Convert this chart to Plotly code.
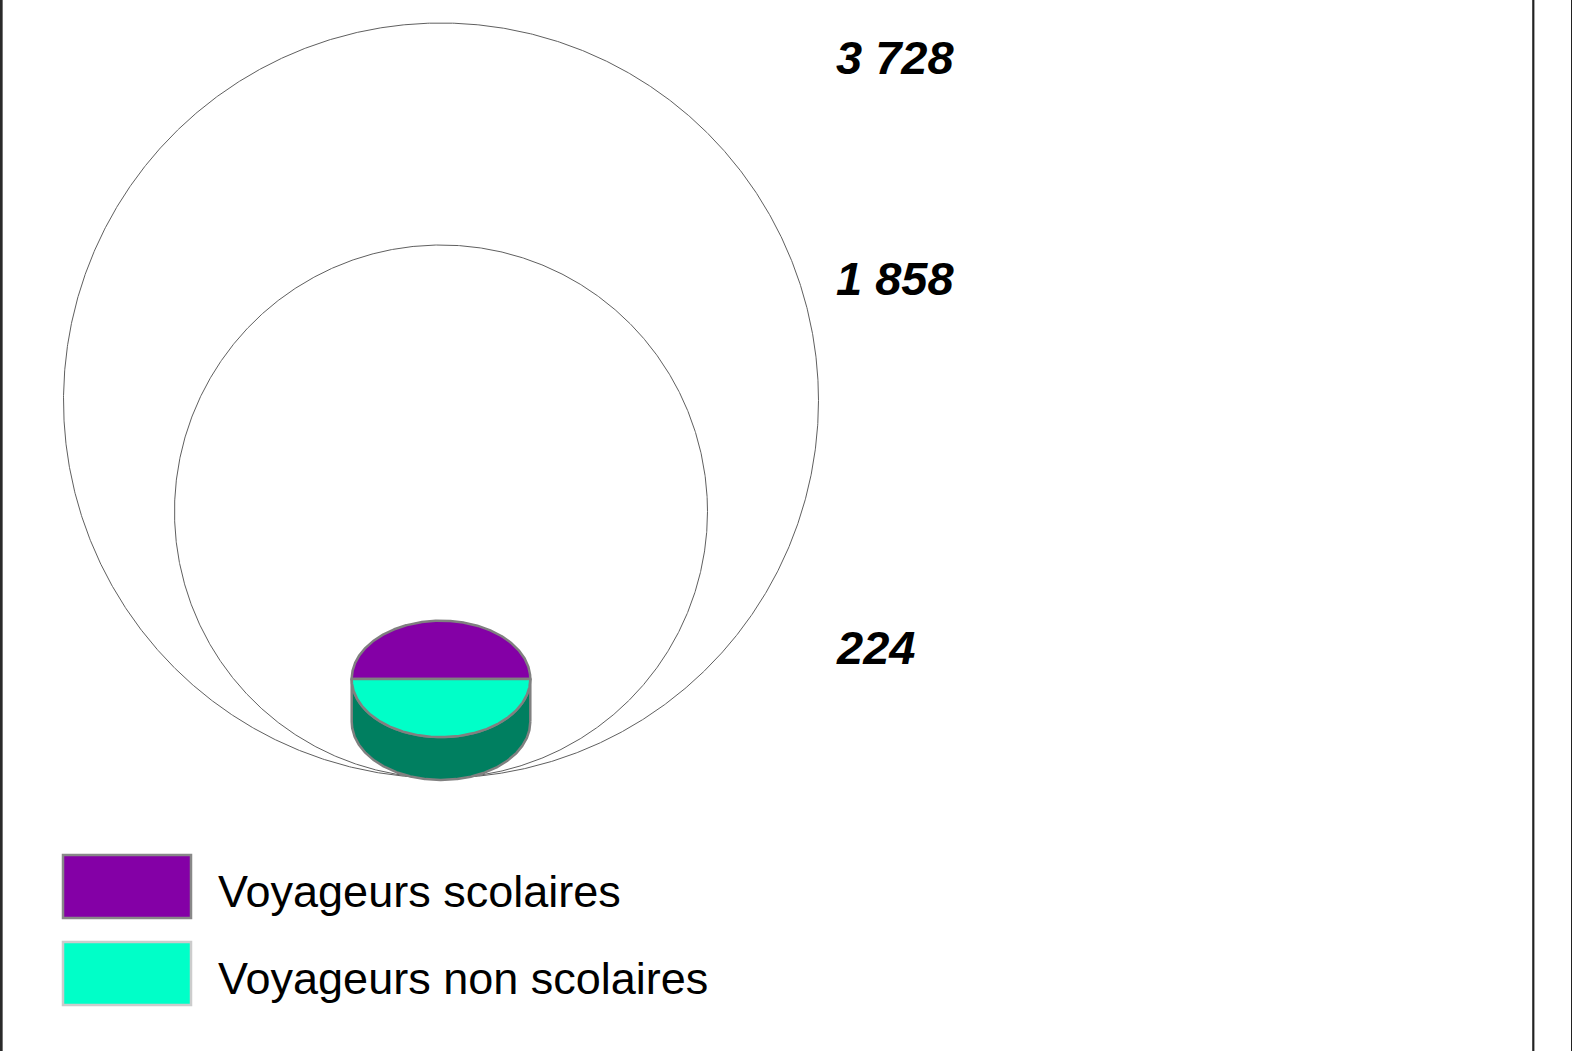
import numpy as np
import plotly.graph_objects as go

# ---- data ----
totals = [3728, 1858, 224]
segment_names = ["Voyageurs scolaires", "Voyageurs non scolaires"]
segment_values = [112, 112]
segment_colors = ["#8400A6", "#00FFC8"]
side_color = "#007F60"
outline_color = "#808080"

# ---- layout constants ----
W, H = 1572, 1051
cx = 441
base_y = 778
r_max = 377.5
label_x = 834

fig = go.Figure()
theta = np.linspace(0, 2 * np.pi, 1441)
vmax = max(totals)
radii = [r_max * np.sqrt(v / vmax) for v in totals]


def fmt(v):
    return f"{v:,}".replace(",", " ")


# nested reference circles (all but the smallest, which is drawn as a disc)
for v, r in zip(totals[:-1], radii[:-1]):
    cy = base_y - r
    fig.add_trace(go.Scatter(
        x=cx + r * np.cos(theta), y=cy + r * np.sin(theta),
        mode="lines", line=dict(color="#5f5f5f", width=1),
        hoverinfo="skip", showlegend=False))
    fig.add_annotation(x=label_x, y=cy - r + 34, text=fmt(v), showarrow=False,
                       xanchor="left", yanchor="middle",
                       font=dict(family="Liberation Sans", size=47, color="black",
                                 weight="bold", style="italic"))

# 3D pie disc for the smallest total
r_s = radii[-1] * 0.965
rx, ry = r_s, r_s * 0.652
depth = r_s * 0.48
bottom = base_y + 2
top_cy = bottom - depth - ry

t_low = np.linspace(0, np.pi, 361)
side_x = np.concatenate([cx + rx * np.cos(t_low), cx + rx * np.cos(t_low[::-1]), [cx + rx]])
side_y = np.concatenate([top_cy + depth + ry * np.sin(t_low), top_cy + ry * np.sin(t_low[::-1]),
                         [top_cy + depth]])
fig.add_trace(go.Scatter(x=side_x, y=side_y, mode="lines", fill="toself",
                         fillcolor=side_color, line=dict(color=outline_color, width=2.5),
                         hoverinfo="skip", showlegend=False))

tot_seg = sum(segment_values)
start = np.pi
for name, val, col in zip(segment_names, segment_values, segment_colors):
    span = 2 * np.pi * val / tot_seg
    t = np.linspace(start, start + span, 361)
    xs = np.concatenate([[cx], cx + rx * np.cos(t), [cx]])
    ys = np.concatenate([[top_cy], top_cy + ry * np.sin(t), [top_cy]])
    fig.add_trace(go.Scatter(x=xs, y=ys, mode="lines", fill="toself", fillcolor=col,
                             line=dict(color=outline_color, width=2.5),
                             hoverinfo="skip", showlegend=False, name=name))
    start += span

fig.add_annotation(x=label_x, y=top_cy - ry + 27, text=fmt(totals[-1]), showarrow=False,
                   xanchor="left", yanchor="middle",
                   font=dict(family="Liberation Sans", size=47, color="black",
                             weight="bold", style="italic"))

# legend
legend_tops = [855, 942]
legend_borders = ["#888888", "#cccccc"]
for name, col, y0, bc in zip(segment_names, segment_colors, legend_tops, legend_borders):
    fig.add_shape(type="rect", xref="x", yref="y", x0=63, x1=191, y0=y0, y1=y0 + 63,
                  fillcolor=col, line=dict(color=bc, width=2.5))
    fig.add_annotation(x=216, y=y0 + 36, text=name, showarrow=False,
                       xanchor="left", yanchor="middle",
                       font=dict(family="Liberation Sans", size=45, color="black"))

# frame lines
for xv, w, c in [(1.3, 2.7, "#2a2a2a"), (1533.3, 2.2, "#222222"), (1571.5, 1, "#222222")]:
    fig.add_shape(type="line", xref="x", yref="y", x0=xv, x1=xv, y0=0, y1=H,
                  line=dict(color=c, width=w))

fig.update_layout(
    width=W, height=H, margin=dict(l=0, r=0, t=0, b=0),
    paper_bgcolor="white", plot_bgcolor="white", showlegend=False,
    xaxis=dict(range=[0, W], visible=False, fixedrange=True),
    yaxis=dict(range=[H, 0], visible=False, fixedrange=True),
)

fig.write_html("out.html", config={"displayModeBar": False},
               post_script="document.body.style.margin='0';document.body.style.overflow='hidden';")
